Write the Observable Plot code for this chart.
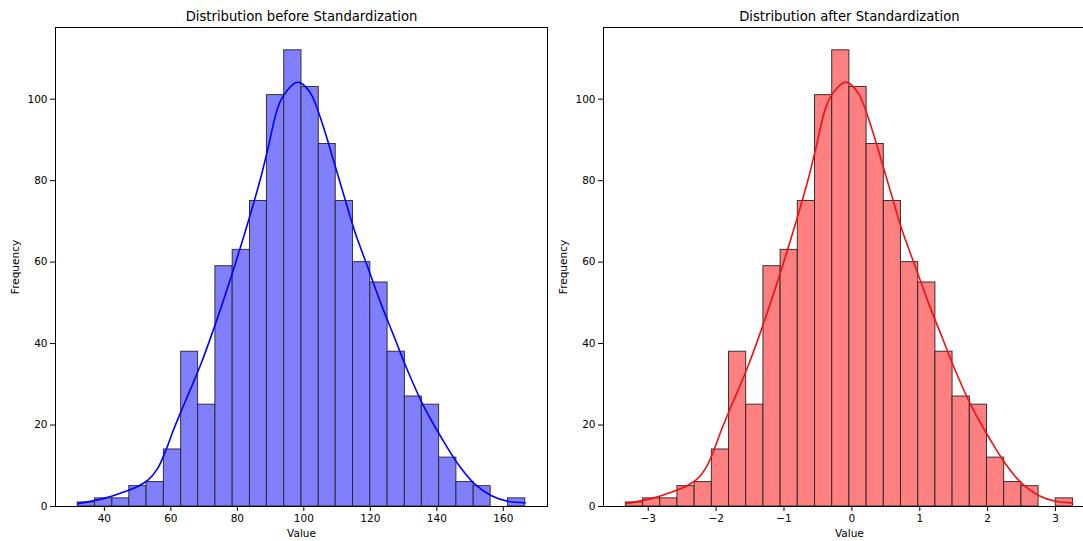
<!DOCTYPE html>
<html>
<head>
<meta charset="utf-8">
<script src="https://cdn.jsdelivr.net/npm/d3@7"></script>
<script src="https://cdn.jsdelivr.net/npm/@observablehq/plot@0.6"></script>
<style>
  html, body { margin: 0; padding: 0; background: #fff; }
  #wrap { position: relative; width: 1083px; height: 541px; overflow: hidden; }
  #left, #right { position: absolute; top: 0; height: 541px; }
  #left { left: 0; width: 550px; }
  #right { left: 548px; width: 548px; }
  #wrap svg { max-width: none !important; display: block; }
</style>
</head>
<body>
<div id="wrap"><div id="left"></div><div id="right"></div></div>
<script>
// Histogram counts (same for both panels)
const counts = [1, 2, 2, 5, 6, 14, 38, 25, 59, 63, 75, 101, 112, 103, 89, 75, 60, 55, 38, 27, 25, 12, 6, 5, 0, 2];
// Bin edges
const edgesBefore = [32.0, 37.2, 42.4, 47.5, 52.7, 57.9, 63.1, 68.2, 73.4, 78.6, 83.8, 88.9, 94.1, 99.3, 104.5, 109.6, 114.8, 120.0, 125.2, 130.4, 135.5, 140.7, 145.9, 151.1, 156.2, 161.4, 166.6];
const edgesAfter = [-3.330, -3.077, -2.823, -2.570, -2.317, -2.063, -1.810, -1.557, -1.303, -1.050, -0.797, -0.543, -0.290, -0.037, 0.217, 0.470, 0.723, 0.977, 1.230, 1.483, 1.737, 1.990, 2.243, 2.497, 2.750, 3.003, 3.257];
// KDE curve (in count units)
const kdeY = [0.7, 2.0, 3.3, 4.9, 6.4, 9.3, 14.0, 18.4, 23.4, 28.2, 35.1, 44.1, 56.3, 69.5, 80.9, 87.5, 99.8, 104.1, 103.9, 101.2, 92.4, 84.2, 76.0, 67.8, 58.8, 49.8, 41.6, 33.4, 24.4, 17.0, 10.5, 5.6, 2.7, 1.3, 0.9];
const kdeXBefore = [32, 40, 45, 50, 53, 56, 58.6, 60.6, 63.1, 65.6, 69.1, 73.1, 78.1, 83.1, 87.1, 89.1, 93.1, 97.7, 99.2, 102.2, 106.2, 109.2, 112.2, 115.2, 119.2, 123.2, 127.2, 131.2, 136.2, 141.3, 146.3, 151.3, 156.3, 161.3, 166.6];
const kdeXAfter = [-3.330, -2.938, -2.694, -2.450, -2.303, -2.156, -2.029, -1.931, -1.809, -1.686, -1.515, -1.319, -1.075, -0.830, -0.635, -0.537, -0.341, -0.116, -0.043, 0.104, 0.300, 0.447, 0.593, 0.740, 0.936, 1.132, 1.327, 1.523, 1.768, 2.017, 2.262, 2.506, 2.751, 2.996, 3.255];
const ticksBefore = [40, 60, 80, 100, 120, 140, 160];
const ticksAfter = [-3, -2, -1, 0, 1, 2, 3];
const ticksY = [0, 20, 40, 60, 80, 100];
const titles = ["Distribution before Standardization", "Distribution after Standardization"];

function panel(edges, kdeX, xDomain, xTicks, fill, line, title, width, marginRight) {
  const bars = counts.map((c, i) => ({x1: edges[i], x2: edges[i + 1], y: c}));
  const kde = kdeX.map((x, i) => ({x, y: kdeY[i]}));
  return Plot.plot({
    width, height: 541,
    marginLeft: 55, marginRight, marginTop: 27, marginBottom: 35,
    style: {fontFamily: "DejaVu Sans, sans-serif", fontSize: "10.5px", color: "#000", background: "#fff"},
    x: {domain: xDomain},
    y: {domain: [0, 117.6]},
    marks: [
      Plot.rectY(bars, {x1: "x1", x2: "x2", y: "y", fill, stroke: "#222", strokeWidth: 1, strokeOpacity: 0.9, inset: 0}),
      Plot.line(kde, {x: "x", y: "y", stroke: line, strokeWidth: 1.6, curve: "catmull-rom"}),
      Plot.frame({stroke: "#000", strokeWidth: 1}),
      Plot.axisX({ticks: xTicks, tickSize: 5, tickPadding: 3, label: null, fontSize: 10.5}),
      Plot.axisY({ticks: ticksY, tickSize: 5, tickPadding: 3, label: null, fontSize: 10.5}),
      Plot.text([title], {frameAnchor: "top", lineAnchor: "middle", dy: -11, fontSize: 13.2, fill: "#000"}),
      Plot.text(["Value"], {frameAnchor: "bottom", lineAnchor: "middle", dy: 27, fontSize: 10.5, fill: "#000"}),
      Plot.text(["Frequency"], {frameAnchor: "left", textAnchor: "middle", lineAnchor: "middle", dx: -40, rotate: -90, fontSize: 10.5, fill: "#000"})
    ]
  });
}

document.getElementById("left").appendChild(
  panel(edgesBefore, kdeXBefore, [25.3, 173.3], ticksBefore, "#8080ff", "#0000ff", titles[0], 550, 3)
);
document.getElementById("right").appendChild(
  panel(edgesAfter, kdeXAfter, [-3.659, 3.584], ticksAfter, "#ff8080", "#ee1111", titles[1], 548, 1.3)
);
</script>
</body>
</html>
